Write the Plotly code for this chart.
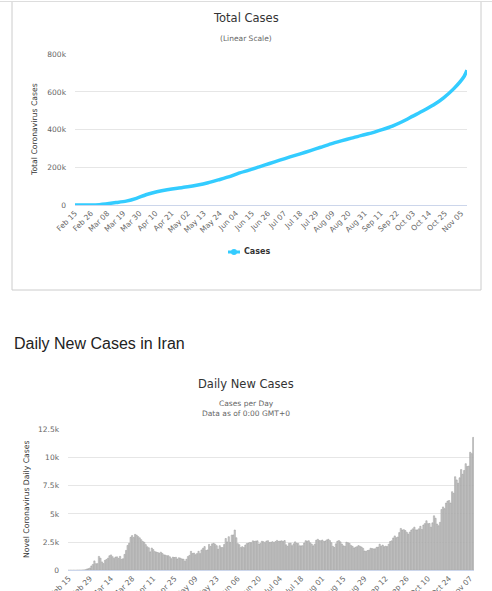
import pandas as pd
import plotly.graph_objects as go

W, H = 492, 591
FONT = "DejaVu Sans"

# daily new cases in Iran, one list per month (2020-02-15 .. 2020-11-09)
feb = [0, 0, 0, 0, 2, 3, 13, 10, 15, 18, 34, 44, 106, 143, 205]
mar = [385, 523, 835, 586, 591, 1234, 1076, 743, 595, 881,
       958, 1075, 1289, 1365, 1209, 1053, 1178, 1192, 1046, 1237,
       966, 1028, 1411, 1762, 2206, 2389, 2926, 3076, 2901, 3186, 3110]
apr = [2987, 2875, 2715, 2560, 2483, 2274, 2089, 1997, 1634, 1972,
       1837, 1657, 1617, 1574, 1512, 1606, 1499, 1374, 1343, 1294,
       1297, 1194, 1030, 1168, 1134, 1153, 991, 1112, 1073, 1006]
may = [983, 802, 976, 1223, 1323, 1680, 1485, 1529, 1383, 1481,
       1683, 1481, 1808, 1958, 2102, 1757, 1806, 2294, 2111, 2346,
       2392, 2311, 2181, 1869, 2180, 2023, 2011, 2282, 2819, 2516, 2979]
jun = [2472, 3117, 3134, 3574, 2886, 2364, 2269, 2011, 2095, 2011,
       2238, 2369, 2410, 2472, 2449, 2612, 2563, 2596, 2615, 2322,
       2368, 2573, 2536, 2445, 2595, 2628, 2456, 2489, 2536, 2457]
jul = [2549, 2652, 2560, 2588, 2613, 2560, 2637, 2262, 2125, 2397,
       2397, 2186, 2349, 2521, 2388, 2379, 2166, 2166, 2182, 2414,
       2625, 2586, 2621, 2434, 2316, 2166, 2316, 2667, 2751, 2636, 2621]
aug = [2685, 2548, 2598, 2697, 2751, 2634, 2450, 2125, 2020, 2345,
       2575, 2634, 2521, 2322, 2166, 2132, 2489, 2444, 2385, 2206,
       2125, 1980, 2042, 2097, 2191, 2125, 2063, 1948, 1712, 1682, 1753]
sep = [1787, 1955, 1929, 1896, 1908, 2039, 2055, 2313, 2138, 2238,
       2096, 2138, 2099, 2311, 2554, 2611, 2869, 3049, 2888, 2951,
       3341, 3712, 3574, 3605, 3521, 3362, 3204, 3390, 3570, 3677]
oct_ = [3825, 3582, 3582, 3677, 3902, 3616, 4019, 4142, 4392, 4137,
        4151, 3822, 4206, 4830, 4616, 4103, 3949, 4251, 5383, 5616,
        5466, 5960, 6134, 6191, 5960, 6968, 6820, 8293, 8011, 7719, 8201]
nov = [8932, 8512, 8848, 9450, 9205, 9236, 10463, 10339, 11780]

daily_cases = feb + mar + apr + may + jun + jul + aug + sep + oct_ + nov
daily_dates = pd.date_range("2020-02-15", "2020-11-09", freq="D")

# total cases (weekly readings of the curve)
total_dates = ["2020-02-15", "2020-02-22", "2020-02-29", "2020-03-07", "2020-03-14",
               "2020-03-21", "2020-03-28", "2020-04-04", "2020-04-11", "2020-04-18",
               "2020-04-25", "2020-05-02", "2020-05-09", "2020-05-16", "2020-05-23",
               "2020-05-30", "2020-06-06", "2020-06-13", "2020-06-20", "2020-06-27",
               "2020-07-04", "2020-07-11", "2020-07-18", "2020-07-25", "2020-08-01",
               "2020-08-08", "2020-08-15", "2020-08-22", "2020-08-29", "2020-09-05",
               "2020-09-12", "2020-09-19", "2020-09-26", "2020-10-03", "2020-10-10",
               "2020-10-17", "2020-10-24", "2020-10-31", "2020-11-07", "2020-11-09"]
total_cases = [0, 28, 593, 5823, 12729, 20610, 35408, 55743, 70029, 80868,
               89328, 96448, 106220, 118392, 133521, 148950, 169425, 184955, 202584, 220180,
               237878, 255117, 271606, 288839, 306752, 324692, 340206, 354764, 369911, 382772,
               399940, 419043, 443086, 471772, 500075, 530380, 568896, 617840, 682486, 715068]

total_tick_dates = ["2020-02-15", "2020-02-26", "2020-03-08", "2020-03-19", "2020-03-30",
                    "2020-04-10", "2020-04-21", "2020-05-02", "2020-05-13", "2020-05-24",
                    "2020-06-04", "2020-06-15", "2020-06-26", "2020-07-07", "2020-07-18",
                    "2020-07-29", "2020-08-09", "2020-08-20", "2020-08-31", "2020-09-11",
                    "2020-09-22", "2020-10-03", "2020-10-14", "2020-10-25", "2020-11-05"]
total_tick_labels = ["Feb 15", "Feb 26", "Mar 08", "Mar 19", "Mar 30", "Apr 10", "Apr 21",
                     "May 02", "May 13", "May 24", "Jun 04", "Jun 15", "Jun 26", "Jul 07",
                     "Jul 18", "Jul 29", "Aug 09", "Aug 20", "Aug 31", "Sep 11", "Sep 22",
                     "Oct 03", "Oct 14", "Oct 25", "Nov 05"]
daily_tick_dates = ["2020-02-15", "2020-02-29", "2020-03-14", "2020-03-28", "2020-04-11",
                    "2020-04-25", "2020-05-09", "2020-05-23", "2020-06-06", "2020-06-20",
                    "2020-07-04", "2020-07-18", "2020-08-01", "2020-08-15", "2020-08-29",
                    "2020-09-12", "2020-09-26", "2020-10-10", "2020-10-24", "2020-11-07"]
daily_tick_labels = ["Feb 15", "Feb 29", "Mar 14", "Mar 28", "Apr 11", "Apr 25", "May 09",
                     "May 23", "Jun 06", "Jun 20", "Jul 04", "Jul 18", "Aug 01", "Aug 15",
                     "Aug 29", "Sep 12", "Sep 26", "Oct 10", "Oct 24", "Nov 07"]

total_yticks = [0, 200000, 400000, 600000, 800000]
total_ytick_labels = ["0", "200k", "400k", "600k", "800k"]
daily_yticks = [0, 2500, 5000, 7500, 10000, 12500]
daily_ytick_labels = ["0", "2.5k", "5k", "7.5k", "10k", "12.5k"]

LINE_COLOR = "#33ccff"


def px(x):
    return x / W


def py(y):
    return 1 - y / H


fig = go.Figure()

fig.add_trace(go.Scatter(
    x=total_dates, y=total_cases,
    mode="lines", name="Cases",
    line=dict(color=LINE_COLOR, width=3.5, shape="spline", smoothing=0.6),
    xaxis="x", yaxis="y", cliponaxis=False, showlegend=False,
))
fig.add_trace(go.Bar(
    x=daily_dates, y=daily_cases,
    marker=dict(color="#cdcdcd", line=dict(width=0.5, color="#999999")),
    xaxis="x2", yaxis="y2", showlegend=False,
))

tick_font = dict(family=FONT, size=7.5, color="#666666")

fig.update_layout(
    width=W, height=H, autosize=False,
    margin=dict(l=0, r=0, t=0, b=0, pad=0, autoexpand=False),
    paper_bgcolor="white", plot_bgcolor="white",
    font=dict(family=FONT),
    bargap=0.15,
    showlegend=False,
    xaxis=dict(domain=[px(75), px(467)], type="date", automargin=False,
               range=["2020-02-15", "2020-11-09"],
               tickvals=total_tick_dates, ticktext=total_tick_labels,
               tickangle=-45, tickfont=tick_font, showgrid=False,
               showline=True, linecolor="#ccd6eb", ticks="", anchor="y"),
    yaxis=dict(domain=[py(205), py(54.3)], range=[0, 800000], automargin=False,
               tickvals=total_yticks, ticktext=total_ytick_labels,
               tickfont=tick_font, gridcolor="#e6e6e6", zeroline=False,
               ticklabelstandoff=8, anchor="x"),
    xaxis2=dict(domain=[px(68), px(474)], type="date", automargin=False,
                range=["2020-02-14 12:00", "2020-11-09 12:00"],
                tickvals=daily_tick_dates, ticktext=daily_tick_labels,
                tickangle=-45, tickfont=tick_font, showgrid=False,
                showline=True, linecolor="#ccd6eb", ticks="", anchor="y2"),
    yaxis2=dict(domain=[py(570.3), py(429.3)], range=[0, 12500], automargin=False,
                tickvals=daily_yticks, ticktext=daily_ytick_labels,
                tickfont=tick_font, gridcolor="#e6e6e6", zeroline=False,
                ticklabelstandoff=8, anchor="x2"),
)

# box around the first chart and the page rule above it
fig.add_shape(type="rect", xref="paper", yref="paper",
              x0=px(12), x1=px(481), y0=py(290), y1=py(1.5),
              line=dict(color="#cccccc", width=1))
fig.add_shape(type="line", xref="paper", yref="paper",
              x0=0, x1=1, y0=py(1.5), y1=py(1.5),
              line=dict(color="#dddddd", width=1))

# legend of the first chart, drawn Highcharts-style (short line with a dot)
fig.add_shape(type="line", xref="paper", yref="paper",
              x0=px(228), x1=px(240), y0=py(252), y1=py(252),
              line=dict(color=LINE_COLOR, width=3))
fig.add_shape(type="circle", xref="paper", yref="paper",
              x0=px(231), x1=px(237), y0=py(255), y1=py(249),
              fillcolor=LINE_COLOR, line=dict(width=0))

texts = [
    ("Total Cases", 246, 18, 11.5, "#333333", 0, "center", FONT),
    ("(Linear Scale)", 246, 38, 7.5, "#666666", 0, "center", FONT),
    ("Total Coronavirus Cases", 34, 130, 7.7, "#333333", -90, "center", FONT),
    ("<b>Cases</b>", 242, 252, 8, "#333333", 0, "left", FONT),
    ("Daily New Cases in Iran", 12, 343, 16, "#222222", 0, "left", "Liberation Sans"),
    ("Daily New Cases", 246, 384, 11.5, "#333333", 0, "center", FONT),
    ("Cases per Day", 246, 403, 7.5, "#666666", 0, "center", FONT),
    ("Data as of 0:00 GMT+0", 246, 413, 7.5, "#666666", 0, "center", FONT),
    ("Novel Coronavirus Daily Cases", 26, 499, 7.7, "#333333", -90, "center", FONT),
]
for text, x, y, size, color, angle, anchor, family in texts:
    fig.add_annotation(text=text, x=px(x), y=py(y), xref="paper", yref="paper",
                       xanchor=anchor, yanchor="middle", showarrow=False,
                       textangle=angle, font=dict(family=family, size=size, color=color))

fig.write_html("out.html", config={"displayModeBar": False},
               post_script="document.body.style.margin='0';document.body.style.overflow='hidden';")
